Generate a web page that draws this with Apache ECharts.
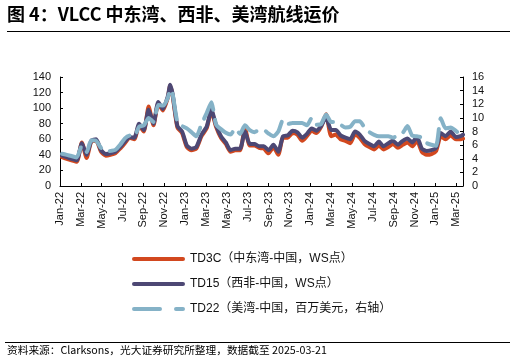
<!DOCTYPE html>
<html><head><meta charset="utf-8">
<script src="https://cdn.jsdelivr.net/npm/echarts@6/dist/echarts.min.js"></script>
<style>html,body{margin:0;padding:0;background:#fff}#c{width:516px;height:364px}</style>
</head><body><div id="c"></div>
<script>
const dates = [
'2022-01-07','2022-01-21','2022-02-04','2022-02-18','2022-03-04','2022-03-18','2022-04-01','2022-04-15','2022-04-29','2022-05-13',
'2022-05-27','2022-06-10','2022-06-24','2022-07-08','2022-07-22','2022-08-05','2022-08-19','2022-09-02','2022-09-16','2022-09-30',
'2022-10-14','2022-10-28','2022-11-11','2022-11-18','2022-11-25','2022-12-09','2022-12-23','2023-01-06','2023-01-20','2023-02-03',
'2023-02-17','2023-03-03','2023-03-17','2023-03-31','2023-04-14','2023-04-28','2023-05-12','2023-05-26','2023-06-09','2023-06-23',
'2023-07-07','2023-07-21','2023-08-04','2023-08-18','2023-09-01','2023-09-15','2023-09-29','2023-10-13','2023-10-27','2023-11-10',
'2023-11-24','2023-12-08','2023-12-22','2024-01-05','2024-01-19','2024-02-02','2024-02-16','2024-03-01','2024-03-15','2024-03-29',
'2024-04-12','2024-04-26','2024-05-10','2024-05-24','2024-06-07','2024-06-21','2024-07-05','2024-07-19','2024-08-02','2024-08-16',
'2024-08-30','2024-09-13','2024-09-27','2024-10-11','2024-10-25','2024-11-08','2024-11-22','2024-12-06','2024-12-20','2025-01-03',
'2025-01-17','2025-01-31','2025-02-14','2025-02-28','2025-03-14','2025-03-21'];
const td3c = [37,35,33,31,56,36,57,58,44,39, 40,42,48,55,62,60,78,70,102,78, 106,97,113,129,116,75,68,50,46,48,
64,74,96,76,62,54,44,46,46,75, 52,52,49,48,42,50,40,62,62,68, 66,58,64,71,68,76,92,64,66,60,
58,55,66,62,54,50,47,52,47,50, 54,49,53,56,51,58,44,40,41,45, 64,60,65,60,60,61];
const td15 = [39,37,35,33,55,40,58,60,46,41, 42,44,50,57,63,62,80,72,98,80, 108,99,115,130,118,77,70,52,48,50,
66,76,98,78,64,56,46,48,48,70, 54,54,51,51,46,53,44,64,65,71, 69,62,67,74,71,77,88,72,72,65,
62,60,70,66,58,54,51,57,51,55, 58,53,58,61,56,63,48,45,46,49, 68,64,70,63,64,66];
const td22 = [4.74,4.57,4.4,4.2,5.9,5.0,6.7,6.6,5.6,5.0, 5.15,5.3,6.05,7.0,7.4,7.3,8.7,8.9,10.0,9.4, 11.9,11.8,12.9,14.2,13.5,9.4,8.8,8.45,7.9,7.3,
9.1,10.7,12.3,9.0,8.35,7.8,7.55,8.45,7.65,8.9, 8.2,7.9,8.2,8.2,7.7,7.3,8.0,9.7,9.1,9.25, 9.25,9.25,8.9,9.95,9.0,9.1,10.5,9.4,9.4,9.0,
8.6,8.7,9.5,9.5,8.6,7.9,7.5,7.3,7.3,7.3, 7.1,7.4,7.8,8.8,7.4,7.3,7.1,6.3,6.05,5.9, 9.95,8.45,8.6,8.1,7.55,7.9];
const xTickLabels = ['Jan-22','Mar-22','May-22','Jul-22','Sep-22','Nov-22','Jan-23','Mar-23','May-23','Jul-23',
'Sep-23','Nov-23','Jan-24','Mar-24','May-24','Jul-24','Sep-24','Nov-24','Jan-25','Mar-25'];
const seriesNames = ['TD3C（中东湾-中国，WS点）','TD15（西非-中国，WS点）','TD22（美湾-中国，百万美元，右轴）'];
const titleText = '图 4：VLCC 中东湾、西非、美湾航线运价';
const sourceText = '资料来源：Clarksons，光大证券研究所整理，数据截至 2025-03-21';

function monthPos(s){const p=s.split('-').map(Number);const dim=new Date(p[0],p[1],0).getDate();return (p[0]-2022)*12+(p[1]-1)+(p[2]-1)/dim;}
const xs = dates.map(monthPos);
const pair = arr => arr.map((v,i)=>[xs[i],v]);
const xMax = monthPos(dates[dates.length-1]);

const colors = ['#D2481F','#4D4874','#85B2C7'];
const solidIcon = 'path://M2,0 L51,0 A2,2 0 0 1 51,4 L2,4 A2,2 0 0 1 2,0 Z';
const dashIcon = 'path://M2,0 L28,0 A2,2 0 0 1 28,4 L2,4 A2,2 0 0 1 2,0 Z M44,0 L51,0 A2,2 0 0 1 51,4 L44,4 A2,2 0 0 1 44,0 Z';

const latin = 'Liberation Sans, Arial, Noto Sans CJK SC, sans-serif';
const cjk = 'Noto Sans CJK SC, sans-serif';
const axisCommon = {
  axisLine:{show:true,lineStyle:{color:'#000',width:1}},
  axisTick:{show:true,inside:true,length:3,lineStyle:{color:'#000'}},
  splitLine:{show:false},
  axisLabel:{color:'#111',fontSize:11,fontFamily:latin,margin:9}
};
const chart = echarts.init(document.getElementById('c'),null,{renderer:'canvas'});
chart.setOption({
  animation:false,
  backgroundColor:'#fff',
  grid:{left:60,right:53,top:77,bottom:178,containLabel:false},
  xAxis:{type:'value',min:0,max:xMax,interval:2,...axisCommon,
    axisLabel:{...axisCommon.axisLabel,rotate:90,margin:6,showMaxLabel:false,
      formatter:v=>{const i=Math.round(v/2);return (Math.abs(v-2*i)<1e-6&&xTickLabels[i])?xTickLabels[i]:'';}}},
  yAxis:[
    {type:'value',min:0,max:140,interval:20,position:'left',...axisCommon},
    {type:'value',min:0,max:16,interval:2,position:'right',...axisCommon}
  ],
  legend:{orient:'vertical',left:127,top:248,itemWidth:53,itemHeight:4,itemGap:13,padding:5,
    textStyle:{fontSize:12,fontFamily:latin,color:'#111'},
    data:[{name:seriesNames[0],icon:solidIcon},{name:seriesNames[1],icon:solidIcon},{name:seriesNames[2],icon:dashIcon}]},
  series:[
    {name:seriesNames[0],type:'line',yAxisIndex:0,data:pair(td3c),symbol:'none',smooth:0.2,
      lineStyle:{color:colors[0],width:4,cap:'round',join:'round'},itemStyle:{color:colors[0]}},
    {name:seriesNames[1],type:'line',yAxisIndex:0,data:pair(td15),symbol:'none',smooth:0.2,
      lineStyle:{color:colors[1],width:4,cap:'round',join:'round'},itemStyle:{color:colors[1]}},
    {name:seriesNames[2],type:'line',yAxisIndex:1,data:pair(td22),symbol:'none',smooth:0.2,
      lineStyle:{color:colors[2],width:4,type:[26,10],cap:'round',join:'round'},itemStyle:{color:colors[2]}}
  ],
  graphic:[
    {type:'text',left:7,top:5,style:{text:titleText,font:'bold 18px '+cjk,fill:'#000'}},
    {type:'line',shape:{x1:7,y1:31.5,x2:510,y2:31.5},style:{stroke:'#000',lineWidth:1}},
    {type:'line',shape:{x1:5,y1:342.5,x2:510,y2:342.5},style:{stroke:'#000',lineWidth:1}},
    {type:'text',left:7,top:345,style:{text:sourceText,font:'10.7px '+cjk,fill:'#000'}}
  ]
});
</script></body></html>
